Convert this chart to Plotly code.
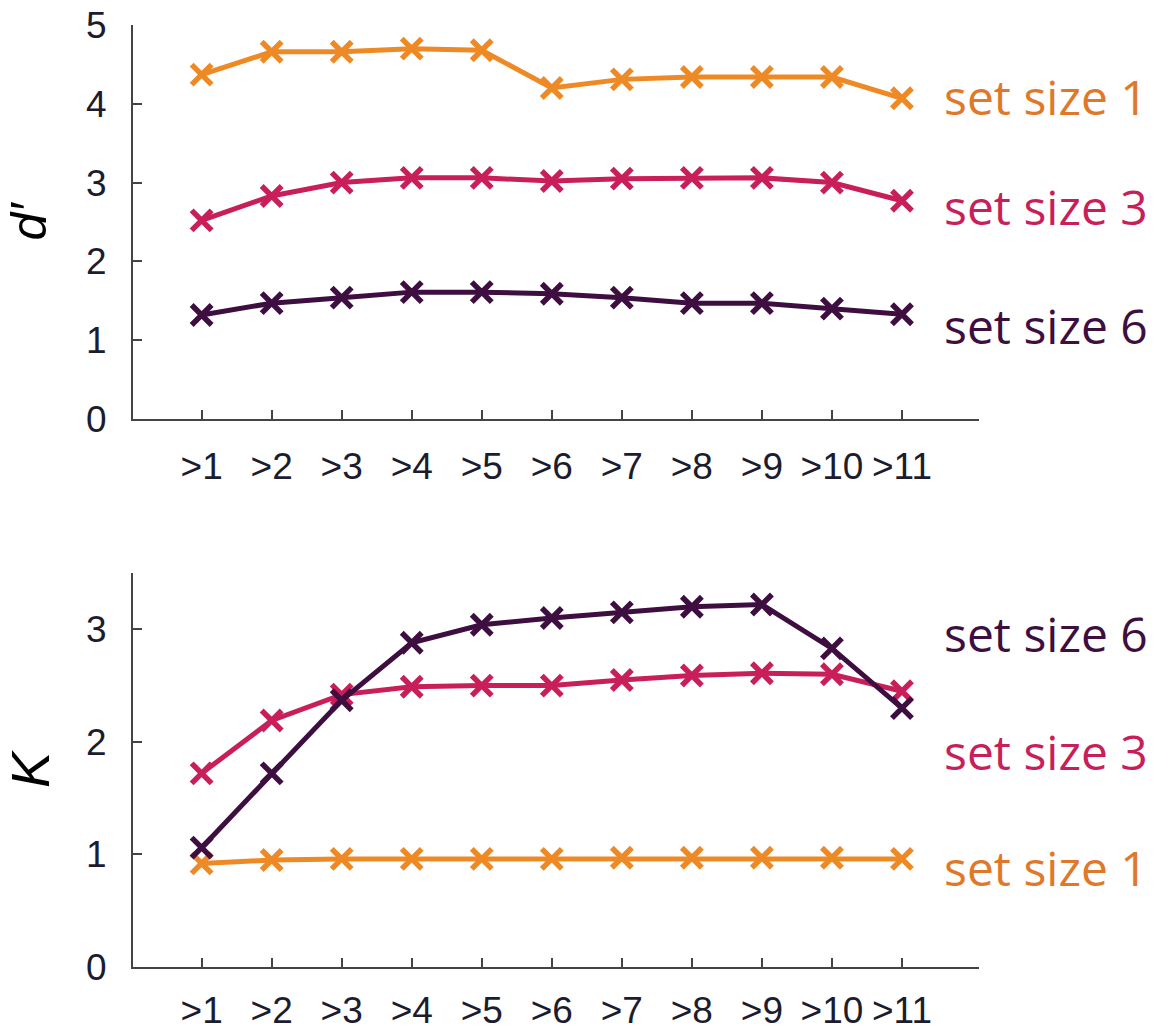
import plotly.graph_objects as go

categories = [">1", ">2", ">3", ">4", ">5", ">6", ">7", ">8", ">9", ">10", ">11"]
x_pos = list(range(1, 12))

# d' panel
dprime_ss1 = [4.37, 4.66, 4.66, 4.70, 4.68, 4.20, 4.31, 4.34, 4.34, 4.34, 4.07]
dprime_ss3 = [2.52, 2.83, 3.00, 3.06, 3.06, 3.02, 3.05, 3.06, 3.06, 3.00, 2.77]
dprime_ss6 = [1.32, 1.47, 1.54, 1.61, 1.61, 1.59, 1.54, 1.47, 1.47, 1.40, 1.33]

# K panel
k_ss1 = [0.92, 0.95, 0.96, 0.96, 0.96, 0.96, 0.97, 0.97, 0.97, 0.97, 0.96]
k_ss3 = [1.72, 2.19, 2.42, 2.49, 2.50, 2.50, 2.55, 2.59, 2.61, 2.60, 2.45]
k_ss6 = [1.06, 1.72, 2.37, 2.88, 3.04, 3.10, 3.15, 3.20, 3.22, 2.83, 2.30]

c1 = "#EE8A25"
c3 = "#C81F5A"
c6 = "#3E0E40"
t1 = "#E0782A"
t3 = "#C81F5A"
t6 = "#3E0E40"

fig = go.Figure()

def add(y, color, xa, ya):
    fig.add_trace(go.Scatter(
        x=x_pos, y=y, mode="lines+markers",
        line=dict(color=color, width=5),
        marker=dict(symbol="x-thin-open", size=20, line=dict(color=color, width=5.5), color=color),
        xaxis=xa, yaxis=ya, showlegend=False, hoverinfo="skip"))

add(dprime_ss1, c1, "x", "y")
add(dprime_ss3, c3, "x", "y")
add(dprime_ss6, c6, "x", "y")
add(k_ss1, c1, "x2", "y2")
add(k_ss3, c3, "x2", "y2")
add(k_ss6, c6, "x2", "y2")

W, H = 1169, 1030
xd = [133 / W, 979 / W]
axis_common = dict(showline=True, linecolor="#444444", linewidth=2, ticks="inside",
                   tickcolor="#444444", ticklen=9, tickwidth=1.5, showgrid=False, zeroline=False,
                   automargin=False, ticklabeloverflow="allow",
                   tickfont=dict(family="Liberation Sans, Arial", size=37, color="#1c1c2e"))

title_font = dict(family="Liberation Sans, Arial", size=50, color="black")

fig.update_layout(
    template="none",
    width=W, height=H,
    margin=dict(l=0, r=0, t=0, b=0, pad=0),
    paper_bgcolor="white", plot_bgcolor="white",
    xaxis=dict(domain=xd, range=[0.02, 12.1], tickvals=x_pos, ticktext=categories,
               anchor="y", ticklabelstandoff=14, **axis_common),
    yaxis=dict(domain=[1 - 419 / H, 1 - 25 / H], range=[0, 5],
               tickvals=[0, 1, 2, 3, 4, 5],
               anchor="x", ticklabelstandoff=17,
               title=dict(text="<i>d′</i>", font=title_font, standoff=24),
               **axis_common),
    xaxis2=dict(domain=xd, range=[0.02, 12.1], tickvals=x_pos, ticktext=categories,
                anchor="y2", ticklabelstandoff=10, **axis_common),
    yaxis2=dict(domain=[1 - 967 / H, 1 - 573 / H], range=[0, 3.5],
                tickvals=[0, 1, 2, 3],
                anchor="x2", ticklabelstandoff=17,
                title=dict(text="<i>K</i>", font=dict(family="Liberation Sans, Arial", size=54, color="black"),
                           standoff=24),
                **axis_common),
)

lab_font = "Open Sans, Noto Sans, sans-serif"
labels = [
    ("set size 1", t1, "y", 4.09),
    ("set size 3", t3, "y", 2.70),
    ("set size 6", t6, "y", 1.19),
    ("set size 6", t6, "y2", 2.96),
    ("set size 3", t3, "y2", 1.91),
    ("set size 1", t1, "y2", 0.88),
]
for text, col, ya, yv in labels:
    fig.add_annotation(text=text, x=11.57, y=yv, xref="x" if ya == "y" else "x2", yref=ya,
                       xanchor="left", yanchor="middle", showarrow=False,
                       font=dict(family=lab_font, size=48, color=col))

fig.write_html("out.html", config={"displayModeBar": False},
               post_script="document.body.style.margin='0';document.body.style.overflow='hidden';")
